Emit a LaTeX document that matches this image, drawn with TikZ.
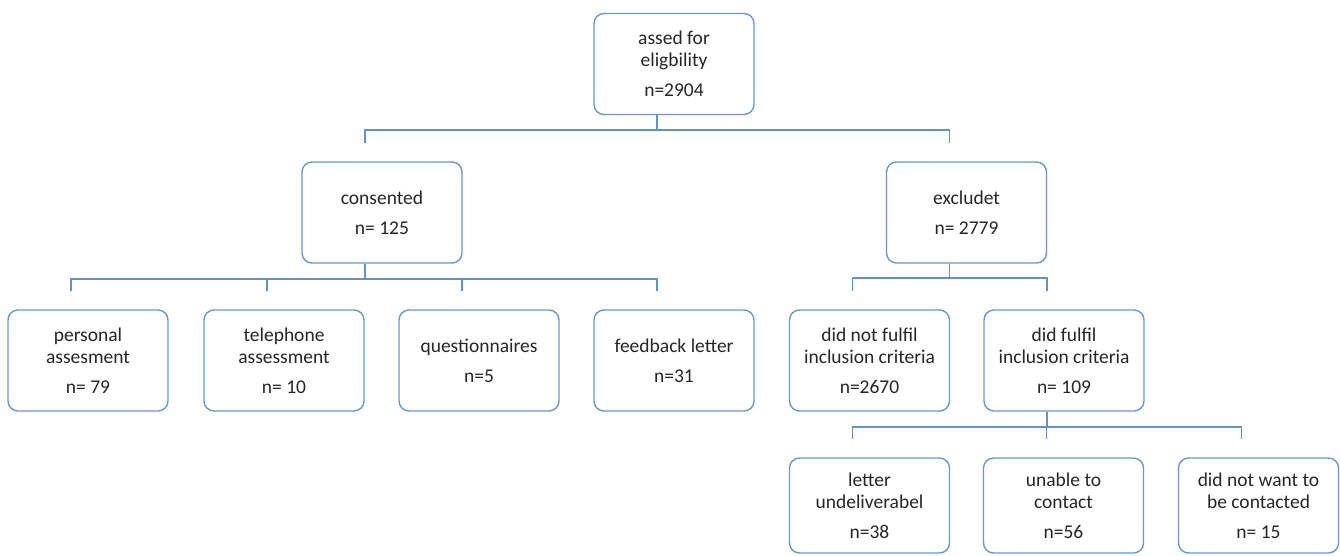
\documentclass[tikz,border=0pt]{standalone}
\usepackage{fontspec}
\setmainfont{Carlito}
\usetikzlibrary{calc}
\definecolor{boxblue}{RGB}{104,152,210}
\definecolor{lineblue}{RGB}{96,146,206}
\definecolor{txt}{RGB}{38,38,38}
\tikzset{
  fbox/.style={draw=boxblue, line width=1.4pt, rounded corners=10pt, fill=white,
    minimum width=160pt, minimum height=101pt, inner sep=0pt, align=center,
    text=txt, font=\fontsize{19.5}{21.7}\selectfont},
  lowbox/.style={fbox, minimum height=95pt},
  conn/.style={draw=lineblue, line width=1.7pt}
}
\newcommand{\gapnl}{\\[8.3pt]}
\begin{document}
\begin{tikzpicture}[x=1pt,y=-1pt]
\useasboundingbox (0,0) rectangle (1340,555);
% level 0
\node[fbox] (top) at (674,64) {assed for\\eligbility\gapnl n=2904};
% level 1
\node[fbox] (cons) at (382,212.5) {consented\gapnl n= 125};
\node[fbox] (excl) at (966.5,212.5) {excludet\gapnl n= 2779};
% level 2
\node[fbox] (pers) at (88,360.5) {personal\\assesment\gapnl n= 79};
\node[fbox] (tel) at (284,360.5) {telephone\\assessment\gapnl n= 10};
\node[fbox] (quest) at (479,360.5) {questionnaires\gapnl n=5};
\node[fbox] (feed) at (674,360.5) {feedback letter\gapnl n=31};
\node[fbox] (dnf) at (869.5,360.5) {did not fulfil\\inclusion criteria\gapnl n=2670};
\node[fbox] (df) at (1064,360.5) {did fulfil\\inclusion criteria\gapnl n= 109};
% level 3
\node[lowbox] (let) at (869.5,505.5) {letter\\undeliverabel\gapnl n=38};
\node[lowbox] (un) at (1063.5,505.5) {unable to\\contact\gapnl n=56};
\node[lowbox] (dnw) at (1258.5,505.5) {did not want to\\be contacted\gapnl n= 15};
% connector anchor points
\foreach \n in {top,cons,excl,df}{\coordinate (\n-out) at ($(\n.south)+(-17,0)$);}
\foreach \n in {cons,excl,pers,tel,quest,feed,dnf,df,let,un,dnw}{\coordinate (\n-in) at ($(\n.north)+(-17,-18)$);}
% connectors
\draw[conn] (top-out) -- ++(0,15) coordinate (b0);
\draw[conn] (cons-in) |- (b0) -| (excl-in);
\draw[conn] (cons-out) -- ++(0,15) coordinate (b1);
\draw[conn] (pers-in) |- (b1) -| (feed-in);
\draw[conn] (tel-in) -- (tel-in |- b1);
\draw[conn] (quest-in) -- (quest-in |- b1);
\draw[conn] (excl-out) -- ++(0,14) coordinate (b2);
\draw[conn] (dnf-in) |- (b2) -| (df-in);
\draw[conn] (df-out) -- ++(0,15) coordinate (b3);
\draw[conn] (let-in) |- (b3) -| (dnw-in);
\draw[conn] (un-in) -- (un-in |- b3);
\end{tikzpicture}
\end{document}
